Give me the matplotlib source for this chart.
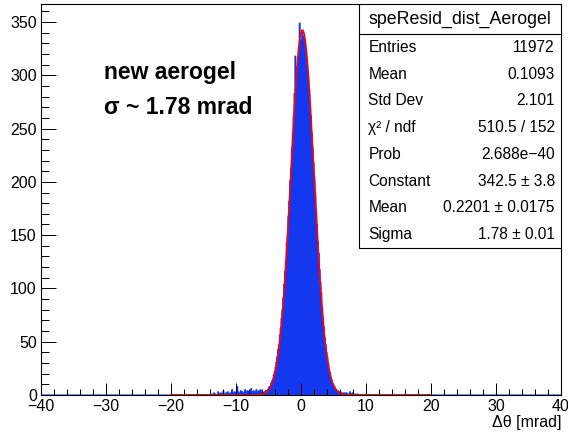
import numpy as np
import matplotlib.pyplot as plt
from matplotlib.ticker import MultipleLocator

plt.rcParams['font.family'] = ['Liberation Sans', 'DejaVu Sans']

# histogram binning: 600 bins over [-40, 40] mrad
n_bins = 600
x_lo, x_hi = -40.0, 40.0

# bin contents, grouped by region (first bin index of each group)
left_tail_start = 195   # edge at -14 mrad
left_tail = [0, 1, 0, 0, 2, 0, 1, 0, 0, 3, 1, 0, 2, 0, 1, 4, 1, 0, 2, 1,
             3, 0, 1, 2, 1, 5, 2, 1, 3, 2, 1, 8, 3, 2, 1, 4, 2, 3, 1, 2,
             5, 3, 2, 4, 1, 3, 2, 6, 3, 2, 4, 3, 2, 5, 3, 2, 4, 3, 5, 2]
core_start = 255        # edge at -6 mrad
core = [2, 1, 3, 2, 4, 3, 5, 6, 8, 7, 11, 13, 15, 19, 22, 26, 31, 36, 43, 47,
        56, 63, 72, 80, 91, 104, 116, 126, 143, 150, 168, 182, 201, 213, 232, 246, 262, 283, 318, 296,
        308, 312, 327, 349, 318, 333, 340, 337, 335, 328, 322, 314, 305, 296, 287, 271, 262, 246, 232, 218,
        203, 190, 172, 160, 144, 133, 118, 106, 96, 82, 73, 64, 54, 47, 40, 36, 30, 24, 21, 16,
        14, 11, 9, 8, 6, 5, 4, 4, 3, 2, 3, 2, 1, 2, 1, 2, 1]
right_tail_start = 352
right_tail = [2, 1, 0, 1, 3, 1, 0, 2, 1, 0, 1, 0, 0, 1, 0]

# gaus fit result
fit_const = 342.5
fit_mean = 0.2201
fit_sigma = 1.78
fit_range = (-20.0, 20.0)

hist_name = 'speResid_dist_Aerogel'
stat_labels = ['Entries', 'Mean', 'Std Dev', 'χ² / ndf', 'Prob', 'Constant', 'Mean', 'Sigma']
stat_values = ['11972', '0.1093', '2.101', '510.5 / 152', '2.688e−40',
               '342.5 ± 3.8', '0.2201 ± 0.0175', '1.78 ± 0.01']


def gaus(x, c, mu, sig):
    return c * np.exp(-0.5 * ((x - mu) / sig) ** 2)


def main():
    edges = np.linspace(x_lo, x_hi, n_bins + 1)
    counts = np.zeros(n_bins)
    for start, vals in [(left_tail_start, left_tail), (core_start, core),
                        (right_tail_start, right_tail)]:
        counts[start:start + len(vals)] = vals

    fig = plt.figure(figsize=(5.68, 4.32), dpi=100)
    ax = fig.add_axes([41 / 568, 37 / 432, 520 / 568, 391 / 432])

    blue = '#1438f0'
    ax.stairs(counts, edges, fill=True, color=blue, linewidth=0)
    ax.stairs(counts, edges, color=blue, linewidth=0.8)

    xf = np.linspace(fit_range[0], fit_range[1], 1000)
    ax.plot(xf, gaus(xf, fit_const, fit_mean, fit_sigma), color='#ff0000', lw=1.2)

    ax.set_xlim(x_lo, x_hi)
    ax.set_ylim(0, 366.9)
    ax.xaxis.set_major_locator(MultipleLocator(10))
    ax.xaxis.set_minor_locator(MultipleLocator(2))
    ax.yaxis.set_major_locator(MultipleLocator(50))
    ax.yaxis.set_minor_locator(MultipleLocator(10))
    ax.tick_params(axis='x', which='major', direction='in', length=9, width=0.7,
                   labelsize=11.5, pad=3)
    ax.tick_params(axis='x', which='minor', direction='in', length=4.5, width=0.7)
    ax.tick_params(axis='y', which='major', direction='in', length=11, width=0.7,
                   labelsize=11.5, pad=3)
    ax.tick_params(axis='y', which='minor', direction='in', length=5.5, width=0.7)
    for sp in ax.spines.values():
        sp.set_linewidth(0.8)

    fig.text(561 / 568, 1 - 423 / 432, 'Δθ [mrad]', ha='right', va='center', fontsize=11.5)

    fig.text(104 / 568, 1 - 72 / 432, 'new aerogel', fontsize=16.5, fontweight='bold',
             va='center', ha='left')
    fig.text(104 / 568, 1 - 107 / 432, 'σ ~ 1.78 mrad', fontsize=16.5, fontweight='bold',
             va='center', ha='left')

    # stats box
    bx0, bx1 = (359 - 41) / 520, 1.0
    by0, by1 = (395 - 248) / 391, 1.0
    ytitle = (395 - 34) / 391
    box = plt.Rectangle((bx0, by0), bx1 - bx0, by1 - by0, transform=ax.transAxes,
                        facecolor='white', edgecolor='black', lw=0.8, zorder=5)
    ax.add_patch(box)
    ax.plot([bx0, bx1], [ytitle, ytitle], transform=ax.transAxes, color='black',
            lw=0.8, zorder=6)
    ax.text((bx0 + bx1) / 2, (by1 + ytitle) / 2, hist_name, transform=ax.transAxes,
            ha='center', va='center', fontsize=12.8, zorder=7)
    row_h = (ytitle - by0) / len(stat_labels)
    for i, (lab, val) in enumerate(zip(stat_labels, stat_values)):
        yy = ytitle - (i + 0.5) * row_h
        ax.text(bx0 + 0.018, yy, lab, transform=ax.transAxes, ha='left', va='center',
                fontsize=11.2, zorder=7)
        ax.text(bx1 - 0.012, yy, val, transform=ax.transAxes, ha='right', va='center',
                fontsize=11.2, zorder=7)

    fig.savefig('out.png', dpi=100)


if __name__ == '__main__':
    main()
